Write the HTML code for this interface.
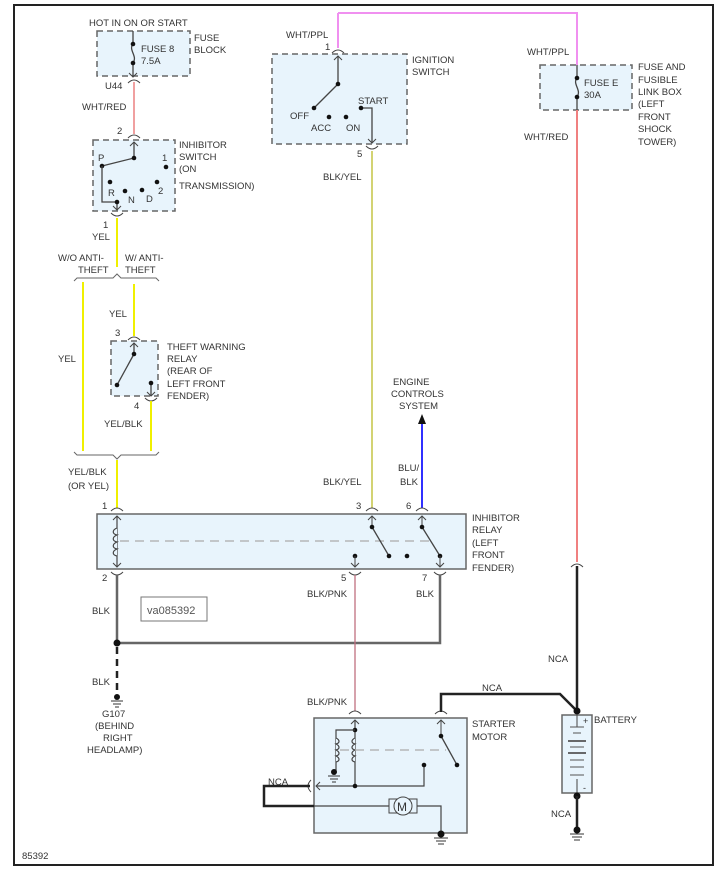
<!DOCTYPE html>
<html><head><style>
html,body{margin:0;padding:0;background:#fff;}
svg{display:block;}
text{font-family:"Liberation Sans",sans-serif;font-size:9.5px;fill:#333;}
</style></head><body>
<svg width="721" height="876" viewBox="0 0 721 876" xmlns="http://www.w3.org/2000/svg">
<defs>
<marker id="ah" viewBox="0 0 10 10" refX="5" refY="0" markerWidth="8" markerHeight="8" orient="auto-start-reverse"><path d="M1,6 L5,0 L9,6" fill="none" stroke="#444" stroke-width="1.2"/></marker>
</defs>
<rect x="14" y="5" width="699" height="860" fill="none" stroke="#222" stroke-width="2"/>

<!-- Fuse block -->
<rect x="97" y="31" width="93" height="45" fill="#e8f4fc" stroke="#666" stroke-width="1.5" stroke-dasharray="6,4"/>
<line x1="133" y1="31" x2="133" y2="44" stroke="#444" stroke-width="1.3"/>
<path d="M133,44 C128,50 138,56 133,63" fill="none" stroke="#444" stroke-width="1.3"/>
<line x1="133" y1="63" x2="133" y2="77" stroke="#444" stroke-width="1.3"/>
<path d="M129,73 L133,77 L137,73" fill="none" stroke="#444"/>
<circle cx="133" cy="44" r="2.3" fill="#111"/><circle cx="133" cy="63" r="2.3" fill="#111"/>
<path d="M128,83 Q134,77 140,83" fill="none" stroke="#444"/>
<text x="89" y="26">HOT IN ON OR START</text>
<text x="141" y="52">FUSE 8</text><text x="141" y="64">7.5A</text>
<text x="194" y="41">FUSE</text><text x="194" y="53">BLOCK</text>
<text x="105" y="89">U44</text>
<text x="82" y="110">WHT/RED</text>
<line x1="134" y1="82" x2="134" y2="134" stroke="#f0a0a0" stroke-width="2"/>

<!-- Inhibitor switch -->
<text x="117" y="134">2</text>
<path d="M128,138 Q134,132 140,138" fill="none" stroke="#444"/>
<rect x="93" y="140" width="82" height="71" fill="#e8f4fc" stroke="#666" stroke-width="1.5" stroke-dasharray="6,4"/>
<line x1="134" y1="142" x2="134" y2="158" stroke="#444" stroke-width="1.3"/>
<path d="M130,146 L134,142 L138,146" fill="none" stroke="#444"/>
<line x1="134" y1="158" x2="102" y2="166" stroke="#444" stroke-width="1.3"/>
<circle cx="134" cy="158" r="2.3" fill="#111"/><circle cx="102" cy="166" r="2.3" fill="#111"/>
<text x="98" y="161">P</text>
<text x="162" y="161">1</text><circle cx="166" cy="167" r="2.3" fill="#111"/>
<circle cx="110" cy="182" r="2.3" fill="#111"/><text x="108" y="196">R</text>
<circle cx="125" cy="191" r="2.3" fill="#111"/><text x="128" y="203">N</text>
<circle cx="142" cy="190" r="2.3" fill="#111"/><text x="146" y="202">D</text>
<circle cx="157" cy="182" r="2.3" fill="#111"/><text x="158" y="194">2</text>
<path d="M102,166 L102,202 L117,202 L117,210" fill="none" stroke="#444" stroke-width="1.3"/>
<circle cx="117" cy="202" r="2.3" fill="#111"/>
<path d="M113,206 L117,210 L121,206" fill="none" stroke="#444"/>
<path d="M111,213 Q117,219 123,213" fill="none" stroke="#444"/>
<text x="179" y="148">INHIBITOR</text><text x="179" y="160">SWITCH</text><text x="179" y="172">(ON</text><text x="179" y="189">TRANSMISSION)</text>
<text x="103" y="228">1</text><text x="92" y="240">YEL</text>
<line x1="117" y1="218" x2="117" y2="267" stroke="#f0f000" stroke-width="2"/>
<text x="58" y="261">W/O ANTI-</text><text x="78" y="273">THEFT</text>
<text x="125" y="261">W/ ANTI-</text><text x="125" y="273">THEFT</text>
<path d="M74,281 L77,278 L113,278 L117,274 L121,278 L156,278 L159,281" fill="none" stroke="#666"/>
<line x1="83" y1="282" x2="83" y2="451" stroke="#f0f000" stroke-width="2"/>
<line x1="134" y1="284" x2="134" y2="336" stroke="#f0f000" stroke-width="2"/>
<text x="109" y="317">YEL</text>
<text x="58" y="362">YEL</text>

<!-- Theft relay -->
<text x="115" y="336">3</text>
<path d="M128,340 Q134,334 140,340" fill="none" stroke="#444"/>
<rect x="111" y="341" width="47" height="55" fill="#e8f4fc" stroke="#666" stroke-width="1.5" stroke-dasharray="6,4"/>
<line x1="134" y1="343" x2="134" y2="354" stroke="#444" stroke-width="1.3"/>
<path d="M130,347 L134,343 L138,347" fill="none" stroke="#444"/>
<line x1="134" y1="354" x2="117" y2="385" stroke="#444" stroke-width="1.3"/>
<circle cx="134" cy="354" r="2.3" fill="#111"/><circle cx="117" cy="385" r="2.3" fill="#111"/>
<line x1="151" y1="383" x2="151" y2="396" stroke="#444" stroke-width="1.3"/>
<circle cx="151" cy="383" r="2.3" fill="#111"/>
<path d="M147,392 L151,396 L155,392" fill="none" stroke="#444"/>
<path d="M145,398 Q151,404 157,398" fill="none" stroke="#444"/>
<text x="167" y="350">THEFT WARNING</text><text x="167" y="362">RELAY</text><text x="167" y="374">(REAR OF</text><text x="167" y="387">LEFT FRONT</text><text x="167" y="399">FENDER)</text>
<text x="134" y="409">4</text>
<text x="104" y="427">YEL/BLK</text>
<line x1="151" y1="401" x2="151" y2="451" stroke="#f0f000" stroke-width="2"/>
<path d="M74,452 L77,455 L113,455 L117,459 L121,455 L156,455 L159,452" fill="none" stroke="#666"/>
<text x="68" y="475">YEL/BLK</text><text x="68" y="489">(OR YEL)</text>
<line x1="117" y1="460" x2="117" y2="508" stroke="#f0f000" stroke-width="2"/>

<!-- Ignition switch -->
<line x1="338" y1="48" x2="338" y2="13" stroke="#f090f0" stroke-width="2"/>
<polyline points="338,13 577,13 577,65" fill="none" stroke="#f090f0" stroke-width="2"/>
<text x="286" y="38">WHT/PPL</text><text x="325" y="50">1</text>
<path d="M332,53 Q338,47 344,53" fill="none" stroke="#444"/>
<rect x="272" y="54" width="135" height="90" fill="#e8f4fc" stroke="#666" stroke-width="1.5" stroke-dasharray="6,4"/>
<line x1="338" y1="56" x2="338" y2="84" stroke="#444" stroke-width="1.3"/>
<path d="M334,60 L338,56 L342,60" fill="none" stroke="#444"/>
<line x1="338" y1="84" x2="314" y2="108" stroke="#444" stroke-width="1.3"/>
<circle cx="338" cy="84" r="2.3" fill="#111"/><circle cx="314" cy="108" r="2.3" fill="#111"/>
<circle cx="329" cy="117" r="2.3" fill="#111"/><circle cx="346" cy="117" r="2.3" fill="#111"/>
<text x="290" y="119">OFF</text><text x="311" y="131">ACC</text><text x="346" y="131">ON</text>
<text x="358" y="104">START</text>
<path d="M361,108 L372,108 L372,143" fill="none" stroke="#444" stroke-width="1.3"/>
<circle cx="361" cy="108" r="2.3" fill="#111"/>
<path d="M368,139 L372,143 L376,139" fill="none" stroke="#444"/>
<path d="M366,146 Q372,152 378,146" fill="none" stroke="#444"/>
<text x="412" y="63">IGNITION</text><text x="412" y="75">SWITCH</text>
<text x="357" y="157">5</text>
<text x="323" y="180">BLK/YEL</text>
<line x1="372" y1="151" x2="372" y2="508" stroke="#c8c850" stroke-width="1.6"/>

<!-- Fuse E -->
<text x="527" y="55">WHT/PPL</text>
<rect x="540" y="65" width="92" height="45" fill="#e8f4fc" stroke="#666" stroke-width="1.5" stroke-dasharray="6,4"/>
<line x1="577" y1="65" x2="577" y2="78" stroke="#444" stroke-width="1.3"/>
<path d="M577,78 C572,84 582,90 577,97" fill="none" stroke="#444" stroke-width="1.3"/>
<line x1="577" y1="97" x2="577" y2="110" stroke="#444" stroke-width="1.3"/>
<circle cx="577" cy="78" r="2.3" fill="#111"/><circle cx="577" cy="97" r="2.3" fill="#111"/>
<text x="584" y="86">FUSE E</text><text x="584" y="98">30A</text>
<text x="638" y="70">FUSE AND</text><text x="638" y="83">FUSIBLE</text><text x="638" y="95">LINK BOX</text><text x="638" y="107">(LEFT</text><text x="638" y="120">FRONT</text><text x="638" y="132">SHOCK</text><text x="638" y="145">TOWER)</text>
<text x="524" y="140">WHT/RED</text>
<line x1="577" y1="110" x2="577" y2="562" stroke="#f08080" stroke-width="2"/>
<path d="M571,567 Q577,561 583,567" fill="none" stroke="#444"/>
<line x1="577" y1="566" x2="577" y2="711" stroke="#222" stroke-width="2.5"/>

<!-- Engine controls -->
<text x="393" y="385">ENGINE</text><text x="391" y="397">CONTROLS</text><text x="399" y="409">SYSTEM</text>
<path d="M418,424 L422,414 L426,424 Z" fill="#111"/>
<line x1="422" y1="424" x2="422" y2="508" stroke="#3030ff" stroke-width="2"/>
<text x="398" y="471">BLU/</text><text x="400" y="485">BLK</text>
<text x="323" y="485">BLK/YEL</text>

<!-- Inhibitor relay -->
<text x="102" y="509">1</text><text x="356" y="509">3</text><text x="406" y="509">6</text>
<path d="M111,511 Q117,505 123,511" fill="none" stroke="#444"/>
<path d="M366,511 Q372,505 378,511" fill="none" stroke="#444"/>
<path d="M416,511 Q422,505 428,511" fill="none" stroke="#444"/>
<rect x="97" y="514" width="369" height="55" fill="#e8f4fc" stroke="#666" stroke-width="1.5"/>
<line x1="117" y1="516" x2="117" y2="567" stroke="#444" stroke-width="1.2"/>
<path d="M117,528 c-5,2 -5,6 0,7 c-5,2 -5,6 0,7 c-5,2 -5,6 0,7 c-5,2 -5,6 0,7" fill="#e8f4fc" stroke="#444" stroke-width="1.2"/>
<path d="M113,520 L117,516 L121,520 M113,563 L117,567 L121,563" fill="none" stroke="#444"/>
<line x1="120" y1="541" x2="432" y2="541" stroke="#aaa" stroke-width="1.3" stroke-dasharray="9,6"/>
<line x1="372" y1="516" x2="372" y2="527" stroke="#444"/>
<path d="M368,520 L372,516 L376,520" fill="none" stroke="#444"/>
<line x1="372" y1="527" x2="389" y2="556" stroke="#444" stroke-width="1.3"/>
<circle cx="372" cy="527" r="2.3" fill="#111"/><circle cx="389" cy="556" r="2.3" fill="#111"/><circle cx="407" cy="556" r="2.3" fill="#111"/>
<line x1="422" y1="516" x2="422" y2="527" stroke="#444"/>
<path d="M418,520 L422,516 L426,520" fill="none" stroke="#444"/>
<line x1="422" y1="527" x2="440" y2="556" stroke="#444" stroke-width="1.3"/>
<circle cx="422" cy="527" r="2.3" fill="#111"/><circle cx="440" cy="556" r="2.3" fill="#111"/>
<line x1="440" y1="556" x2="440" y2="567" stroke="#444"/>
<path d="M436,563 L440,567 L444,563" fill="none" stroke="#444"/>
<circle cx="355" cy="556" r="2.3" fill="#111"/>
<line x1="355" y1="556" x2="355" y2="567" stroke="#444"/>
<path d="M351,563 L355,567 L359,563" fill="none" stroke="#444"/>
<path d="M111,572 Q117,578 123,572" fill="none" stroke="#444"/>
<path d="M349,572 Q355,578 361,572" fill="none" stroke="#444"/>
<path d="M434,572 Q440,578 446,572" fill="none" stroke="#444"/>
<text x="472" y="521">INHIBITOR</text><text x="472" y="533">RELAY</text><text x="472" y="546">(LEFT</text><text x="472" y="558">FRONT</text><text x="472" y="571">FENDER)</text>
<text x="102" y="581">2</text><text x="341" y="581">5</text><text x="422" y="581">7</text>
<text x="307" y="597">BLK/PNK</text><text x="416" y="597">BLK</text>
<text x="92" y="614">BLK</text>
<rect x="141" y="597" width="66" height="24" fill="#fff" stroke="#777"/>
<text x="147" y="614" style="font-size:11px;fill:#555">va085392</text>

<path d="M117,575 L117,643 L440,643 L440,575" fill="none" stroke="#666" stroke-width="2.5"/>
<circle cx="117" cy="643" r="3.5" fill="#111"/>
<line x1="117" y1="647" x2="117" y2="694" stroke="#222" stroke-width="2.5" stroke-dasharray="7,5"/>
<text x="92" y="685">BLK</text>
<circle cx="117" cy="697" r="3" fill="#111"/>
<path d="M111,701 L123,701 M113,704 L121,704 M115,707 L119,707" stroke="#333"/>
<text x="102" y="717">G107</text><text x="95" y="729">(BEHIND</text><text x="103" y="741">RIGHT</text><text x="87" y="753">HEADLAMP)</text>

<line x1="355" y1="575" x2="355" y2="711" stroke="#c07080" stroke-width="1.3"/>
<text x="307" y="705">BLK/PNK</text>
<text x="548" y="662">NCA</text>
<text x="482" y="691">NCA</text>

<!-- Starter motor -->
<path d="M349,714 Q355,708 361,714" fill="none" stroke="#444"/>
<path d="M435,714 Q441,708 447,714" fill="none" stroke="#444"/>
<polyline points="441,712 441,694 560,694 577,711" fill="none" stroke="#222" stroke-width="2.5"/>
<rect x="314" y="718" width="153" height="115" fill="#e8f4fc" stroke="#666" stroke-width="1.5"/>
<text x="472" y="727">STARTER</text><text x="472" y="740">MOTOR</text>
<line x1="355" y1="720" x2="355" y2="786" stroke="#444" stroke-width="1.2"/>
<path d="M351,724 L355,720 L359,724" fill="none" stroke="#444"/>
<circle cx="355" cy="730" r="2.3" fill="#111"/>
<polyline points="355,730 336,730 336,771" fill="none" stroke="#444" stroke-width="1.2"/>
<path d="M355,738 c-4,2 -4,5 0,6 c-4,2 -4,5 0,6 c-4,2 -4,5 0,6 c-4,2 -4,5 0,6" fill="#e8f4fc" stroke="#444" stroke-width="1.2"/>
<path d="M336,738 c4,2 4,5 0,6 c4,2 4,5 0,6 c4,2 4,5 0,6 c4,2 4,5 0,6" fill="#e8f4fc" stroke="#444" stroke-width="1.2"/>
<circle cx="334" cy="772" r="3" fill="#111"/>
<path d="M328,776 L340,776 M330,779 L338,779 M332,782 L336,782" stroke="#333"/>
<line x1="340" y1="750" x2="446" y2="750" stroke="#aaa" stroke-width="1.3" stroke-dasharray="9,6"/>
<line x1="441" y1="720" x2="441" y2="736" stroke="#444"/>
<path d="M437,724 L441,720 L445,724" fill="none" stroke="#444"/>
<line x1="441" y1="736" x2="457" y2="765" stroke="#444" stroke-width="1.3"/>
<circle cx="441" cy="736" r="2.3" fill="#111"/><circle cx="457" cy="765" r="2.3" fill="#111"/>
<polyline points="316,786 424,786 424,765" fill="none" stroke="#444" stroke-width="1.2"/>
<circle cx="424" cy="765" r="2.3" fill="#111"/><circle cx="355" cy="786" r="2.3" fill="#111"/>
<path d="M320,782 L316,786 L320,790" fill="none" stroke="#444"/>
<path d="M311,780 Q305,786 311,792" fill="none" stroke="#444"/>
<text x="268" y="785">NCA</text>
<polyline points="310,786 264,786 264,806 314,806" fill="none" stroke="#222" stroke-width="2.5"/>
<line x1="314" y1="806" x2="390" y2="806" stroke="#444" stroke-width="1.2"/>
<rect x="389" y="799" width="28" height="14" fill="#e8f4fc" stroke="#444"/>
<circle cx="403" cy="806" r="9" fill="#e8f4fc" stroke="#444"/>
<text x="397" y="811" style="font-size:12px">M</text>
<polyline points="417,806 441,806 441,833" fill="none" stroke="#444" stroke-width="1.2"/>
<circle cx="441" cy="834" r="3.5" fill="#111"/>
<path d="M434,838 L448,838 M436,841 L446,841 M438,844 L444,844" stroke="#333"/>

<!-- Battery -->
<rect x="562" y="715" width="30" height="78" fill="#e8f4fc" stroke="#666" stroke-width="1.5"/>
<circle cx="577" cy="711" r="3.5" fill="#111"/>
<text x="583" y="724" style="font-size:9px">+</text>
<line x1="577" y1="715" x2="577" y2="727" stroke="#444"/>
<g stroke="#555">
<line x1="570" y1="727" x2="584" y2="727"/><line x1="573" y1="733" x2="581" y2="733"/>
<line x1="568" y1="741" x2="586" y2="741" stroke-width="1.8"/><line x1="570" y1="747" x2="584" y2="747"/>
<line x1="568" y1="753" x2="586" y2="753" stroke-width="1.8"/><line x1="570" y1="760" x2="584" y2="760"/>
<line x1="570" y1="767" x2="584" y2="767"/><line x1="570" y1="775" x2="584" y2="775"/>
</g>
<line x1="577" y1="779" x2="577" y2="793" stroke="#444"/>
<text x="583" y="791" style="font-size:9px">-</text>
<text x="594" y="723">BATTERY</text>
<circle cx="577" cy="796" r="3.5" fill="#111"/>
<line x1="577" y1="796" x2="577" y2="828" stroke="#222" stroke-width="2.5"/>
<text x="551" y="817">NCA</text>
<circle cx="577" cy="830" r="3.5" fill="#111"/>
<path d="M570,834 L584,834 M572,837 L582,837 M574,840 L580,840" stroke="#333"/>

<text x="22" y="859">85392</text>
</svg>
</body></html>
